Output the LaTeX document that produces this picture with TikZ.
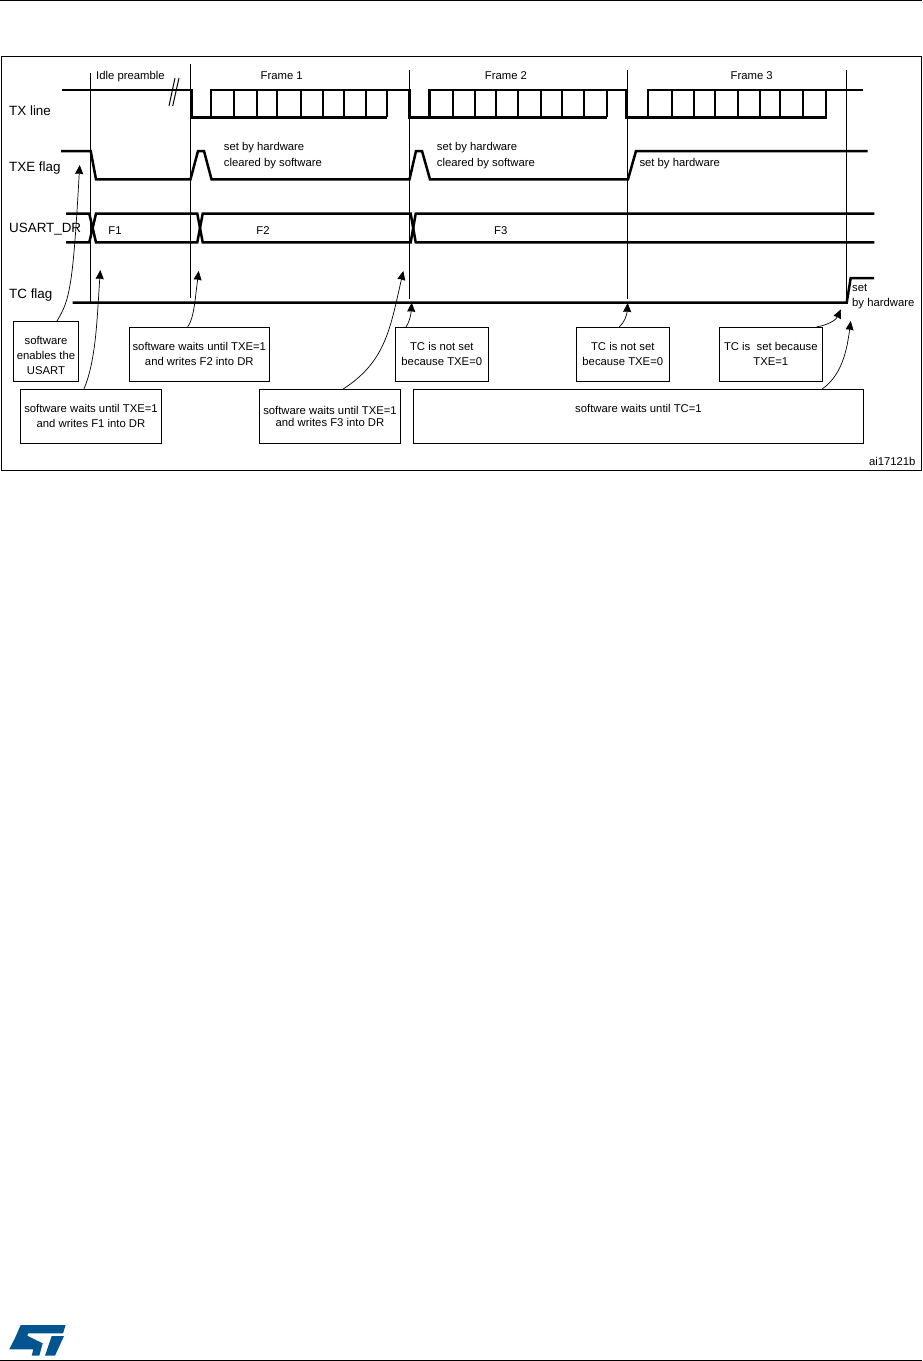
\documentclass[tikz,border=0pt]{standalone}
\usepackage{fontspec}
\setmainfont{Liberation Sans}
\usepackage{xcolor}
\usetikzlibrary{arrows.meta, positioning}
\definecolor{stblue}{HTML}{03558F}
\begin{document}
\begin{tikzpicture}[x=1pt, y=-1pt,
  signal/.style={line width=2.5pt, miter limit=10},
  bit/.style={line width=2pt},
  marker/.style={line width=0.8pt},
  sig label/.style={anchor=west, inner sep=0pt, font=\fontsize{13.4}{15}\selectfont},
  note/.style={inner sep=0pt, font=\fontsize{11.3}{13}\selectfont, align=center},
  box/.style={draw, line width=0.8pt, inner sep=0pt, font=\fontsize{11.3}{15}\selectfont, align=center},
  call/.style={line width=0.7pt, -{Stealth[length=9pt,width=8pt,inset=0.5pt]}}]
\useasboundingbox (0,0) rectangle (922,1361);
\fill[white] (0,0) rectangle (922,1361);
\draw[line width=1pt] (0,0.5) -- (922,0.5);
\draw[line width=1pt] (0,1360) -- (922,1360);
\draw[line width=0.9pt] (1,56) rectangle (921,470);

\draw[marker] (90.7,73) -- (90.7,303);
\draw[marker] (190.5,64) -- (190.5,298);
\draw[marker] (409.5,70) -- (409.5,299);
\draw[marker] (627.3,70) -- (627.3,299);
\draw[marker] (846.7,70) -- (846.7,303);

\draw[signal] (62,90) -- (191.5,90) -- (191.5,117.3) -- (387,117.3);
\draw[signal] (211,117.3) -- (211,90) -- (409.5,90) -- (409.5,117.3) -- (607,117.3);
\draw[signal] (429.5,117.3) -- (429.5,90) -- (626,90) -- (626,117.3) -- (826,117.3) -- (826,90);
\draw[signal] (648,117.3) -- (648,90) -- (826,90) -- (862.7,90);
\foreach \x in {234,257,277,300.7,323,344,365.7,386.7,452.7,475,496,518,541,562,584,607,671.7,694,715,737.7,760,780,803}
  \draw[bit] (\x,90) -- (\x,117.3);
\draw[line width=1pt] (169,106) -- (175,78);
\draw[line width=1pt] (172.7,106) -- (179,78);

\draw[signal] (61,151) -- (90.7,151) -- (96,179.3) -- (190.5,179.3) -- (198,151) -- (204,151) -- (211.5,179.3) -- (409.5,179.3) -- (416,151) -- (422,151) -- (430,179.3) -- (628,179.3) -- (636,151) -- (867.7,151);

\draw[signal] (66,213.7) -- (89.3,213.7) -- (96,242.3) -- (197.3,242.3) -- (202.7,213.7) -- (410.7,213.7) -- (415.7,242.3) -- (874.3,242.3);
\draw[signal] (66,242.3) -- (89.3,242.3) -- (96,213.7) -- (197.3,213.7) -- (202.7,242.3) -- (410.7,242.3) -- (415.7,213.7) -- (874.3,213.7);

\draw[signal] (72.7,302.7) -- (846.7,302.7) -- (850.7,278) -- (874,278);

\node[sig label] (txline) at (9,111) {TX line};
\node[sig label] (txeflag) at (9,168.5) {TXE flag};
\node[sig label] (usartdr) at (9,229.5) {USART\_DR};
\node[sig label] (tcflag) at (9,295.5) {TC flag};

\node[note, anchor=west] (idle) at (96,76.5) {Idle preamble};
\node[note] (frame1) at (281.7,76) {Frame 1};
\node[note] (frame2) at (506,76) {Frame 2};
\node[note] (frame3) at (751.7,76) {Frame 3};
\node[note, anchor=west, align=left] (setclr1) at (223.7,155.8) {set by hardware\\[2.5pt]cleared by software};
\node[note, anchor=west, align=left] (setclr2) at (436.7,155.8) {set by hardware\\[2.5pt]cleared by software};
\node[note, anchor=west] (sethw) at (639.3,163.8) {set by hardware};
\node[note] (f1) at (115,230.5) {F1};
\node[note] (f2) at (263,230.5) {F2};
\node[note] (f3) at (500.7,230.5) {F3};
\node[note, anchor=west, align=left] (settc) at (852,296.5) {set\\[2.5pt]by hardware};
\node[note, anchor=east] (ref) at (915.7,461.7) {ai17121b};

\node[box, minimum width=65.4pt, minimum height=60pt] (enable) at (46,351.3) {\rule{0pt}{16pt}software\\enables the\\USART};
\node[box, minimum width=140pt, minimum height=54pt] (waitf2) at (199.3,354.3) {software waits until TXE=1\\and writes F2 into DR};
\node[box, minimum width=141.4pt, minimum height=54pt] (waitf1) at (91,416.3) {software waits until TXE=1\\and writes F1 into DR};
\node[box, minimum width=141.4pt, minimum height=54pt] (waitf3) at (330,416.3) {software waits until TXE=1\\[-3pt]and writes F3 into DR};
\node[box, minimum width=93pt, minimum height=54pt] (notset1) at (441.8,354.3) {TC is not set\\because TXE=0};
\node[box, minimum width=93pt, minimum height=54pt] (notset2) at (622.8,354.3) {TC is not set\\because TXE=0};
\node[box, minimum width=103pt, minimum height=54pt] (isset) at (770.8,354.3) {TC is\ \ set because\\TXE=1};
\node[box, minimum width=450.4pt, minimum height=54pt] (waittc) at (638.5,416.3) {software waits until TC=1\\~};

\coordinate (tipenable) at (79.7,165);
\coordinate (tipf1) at (100.3,270);
\coordinate (tipf2) at (198.7,271);
\coordinate (tipf3) at (403.3,271);
\coordinate (tipnot1) at (411.7,302.7);
\coordinate (tipnot2) at (627.7,303);
\coordinate (tipset) at (841,309.3);
\coordinate (tipwait) at (850.7,321);

\draw[call] ([xshift=11pt]enable.north) .. controls (70,300) and (73,285) .. (tipenable);
\draw[call] ([xshift=-7pt]waitf1.north) .. controls (96,360) and (97,320) .. (tipf1);
\draw[call] ([xshift=-11.6pt]waitf2.north) .. controls (194,318) and (195,300) .. (tipf2);
\draw[call] ([xshift=13.3pt]waitf3.north) .. controls (385,362) and (390,330) .. (tipf3);
\draw[call] ([xshift=-35.8pt]notset1.north) .. controls (409,323) and (411,315) .. (tipnot1);
\draw[call] ([xshift=-3.5pt]notset2.north) .. controls (624,323) and (627,315) .. (tipnot2);
\draw[call] ([xshift=45.9pt]isset.north) .. controls (828,325) and (836,320) .. (tipset);
\draw[call] ([xshift=183.8pt]waittc.north) .. controls (842,375) and (847,350) .. (tipwait);

\fill[stblue] (20.7,1325) -- (65.7,1325) -- (63,1333.3) -- (28.3,1333.3) -- (27.3,1335.7) -- (42.7,1343.3) -- (39.3,1355.7) -- (31.7,1355.7) -- (33.3,1349.3) -- (9.3,1349.3) -- (15,1338) -- cycle;
\fill[stblue] (64,1336) -- (55,1355.7) -- (45,1355.7) -- (51.7,1336) -- cycle;
\end{tikzpicture}
\end{document}
